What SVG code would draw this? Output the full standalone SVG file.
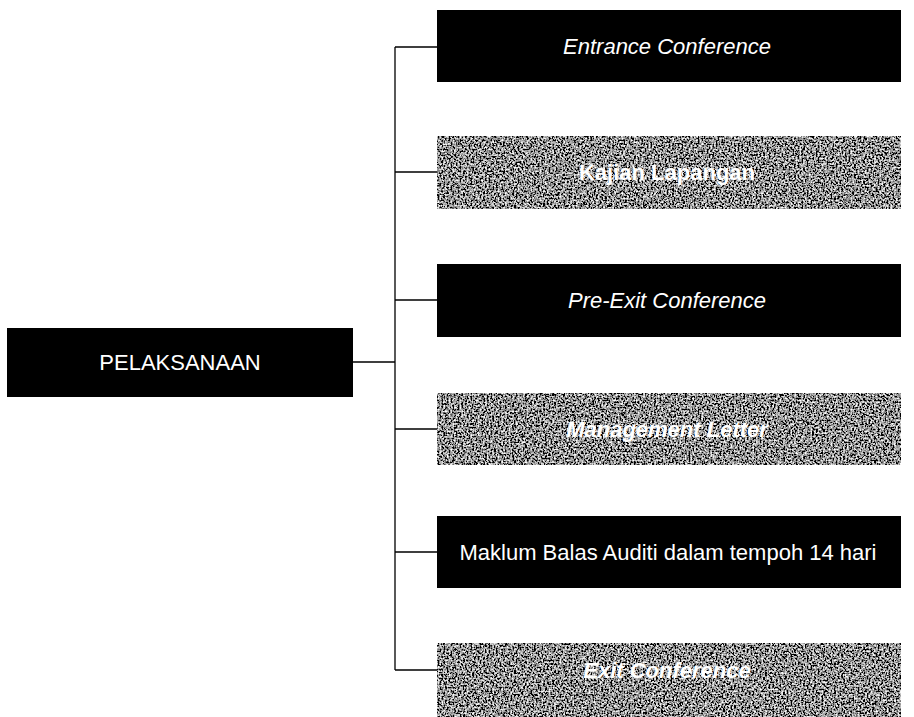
<svg xmlns="http://www.w3.org/2000/svg" width="914" height="717" viewBox="0 0 914 717">
<defs>
<filter id="noise" x="0" y="0" width="100%" height="100%">
<feTurbulence type="fractalNoise" baseFrequency="0.55" numOctaves="2" seed="3" result="t"/>
<feColorMatrix in="t" type="matrix" values="2.6 0 0 0 -1.0  2.6 0 0 0 -1.0  2.6 0 0 0 -1.0  0 0 0 0 1"/>
</filter>
<style>
.dark{fill:#000}
.tex{fill:#666}
.lbl{font-family:"Liberation Sans",Arial,sans-serif;font-size:22px;fill:#fff;text-anchor:middle}
.it{font-style:italic}
.bold{font-weight:bold}
.conn{stroke:#000;stroke-width:1.3;fill:none}
</style>
</defs>
<rect width="914" height="717" fill="#fff"/>
<g id="connectors">
<path class="conn" d="M353 362 H395 M395 47 V670 M395 47 H437 M395 172 H437 M395 300 H437 M395 429 H437 M395 552 H437 M395 670 H437"/>
</g>
<g id="n-pelaksanaan">
<rect class="dark" x="7" y="328" width="346" height="69"/>
<text class="lbl" x="180" y="370">PELAKSANAAN</text>
</g>
<g id="n-entrance">
<rect class="dark" x="437" y="10" width="464" height="72"/>
<text class="lbl it" x="667" y="54">Entrance Conference</text>
</g>
<g id="n-kajian">
<rect class="tex" x="437" y="136" width="464" height="73" filter="url(#noise)"/>
<text class="lbl bold" x="667" y="180">Kajian Lapangan</text>
</g>
<g id="n-preexit">
<rect class="dark" x="437" y="264" width="464" height="73"/>
<text class="lbl it" x="667" y="308">Pre-Exit Conference</text>
</g>
<g id="n-management">
<rect class="tex" x="437" y="393" width="464" height="72" filter="url(#noise)"/>
<text class="lbl it bold" x="667" y="437">Management Letter</text>
</g>
<g id="n-maklum">
<rect class="dark" x="437" y="516" width="464" height="72"/>
<text class="lbl" x="668" y="560">Maklum Balas Auditi dalam tempoh 14 hari</text>
</g>
<g id="n-exit">
<rect class="tex" x="437" y="643" width="464" height="74" filter="url(#noise)"/>
<text class="lbl it bold" x="667" y="678">Exit Conference</text>
</g>
</svg>
